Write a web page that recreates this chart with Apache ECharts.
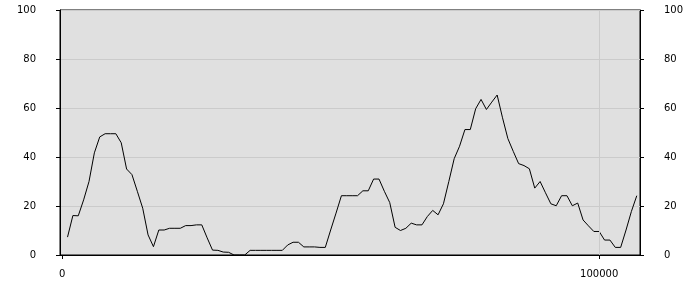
<!DOCTYPE html>
<html>
<head>
<meta charset="utf-8">
<script src="https://cdn.jsdelivr.net/npm/echarts@6/dist/echarts.min.js"></script>
<style>html,body{margin:0;padding:0;background:#fff}#c{width:700px;height:300px}</style>
</head>
<body>
<div id="c"></div>
<script>
var xValues = [1000,2000,3000,4000,5000,6000,7000,8000,9000,10000,11000,12000,13000,14000,15000,16000,17000,18000,19000,20000,21000,22000,23000,24000,25000,26000,27000,28000,29000,30000,31000,32000,33000,34000,35000,36000,37000,38000,39000,40000,41000,42000,43000,44000,45000,46000,47000,48000,49000,50000,51000,52000,53000,54000,55000,56000,57000,58000,59000,60000,61000,62000,63000,64000,65000,66000,67000,68000,69000,70000,71000,72000,73000,74000,75000,76000,77000,78000,79000,80000,81000,82000,83000,84000,85000,86000,87000,88000,89000,90000,91000,92000,93000,94000,95000,96000,97000,98000,99000,100000,101000,102000,103000,104000,105000,106000,107000];
var yValues = [7.3,16.1,16,22.5,30,41.7,48.2,49.5,49.5,49.5,45.8,35.1,32.8,26,19.1,8.2,3.4,10.2,10.2,10.9,10.9,10.9,12,12,12.3,12.3,7,2,1.9,1.2,1.1,0,0,0,1.9,1.9,1.9,1.9,1.9,1.9,1.9,4.1,5.2,5.2,3.3,3.3,3.3,3.1,3.1,10.2,17.1,24.2,24.2,24.2,24.2,26.2,26.2,31,31,26,21.4,11.3,10,10.9,13,12.3,12.3,15.7,18.2,16.4,20.9,30,39.3,44.4,51.2,51.2,59.7,63.5,59.4,62.4,65.3,56,47.5,42.3,37.3,36.5,35.2,27.3,30,25.4,20.9,20.1,24.2,24.2,20.1,21.2,14.3,11.9,9.6,9.6,6.1,6.1,3.1,3.1,10.2,17.8,24.2];
var xTickValues = [0, 100000];
var xGridValues = [100000];

var pts = xValues.map(function (x, i) { return [x, yValues[i]]; });
var font = { fontFamily: 'DejaVu Sans', fontSize: 10, color: '#000' };
var yAxisBase = function (pos) {
  return {
    type: 'value', position: pos, min: 0, max: 100, interval: 20,
    axisLine: { show: true, onZero: false, lineStyle: { color: '#000', width: 1 } },
    axisTick: { show: true, length: 4, lineStyle: { color: '#000' } },
    axisLabel: Object.assign({ margin: 24 }, font),
    splitLine: { show: pos === 'left', lineStyle: { color: '#cbcbcb', width: 1 } }
  };
};
var chart = echarts.init(document.getElementById('c'), null, { renderer: 'canvas' });
chart.setOption({
  animation: false,
  grid: { left: 60, right: 60, top: 10, bottom: 45, show: true, backgroundColor: '#e0e0e0', borderColor: '#000', borderWidth: 1 },
  xAxis: {
    type: 'value', min: -400, max: 107600,
    axisLine: { show: true, onZero: false, lineStyle: { color: '#000', width: 1 } },
    axisTick: { show: true, length: 4, lineStyle: { color: '#000' }, customValues: xTickValues },
    axisLabel: Object.assign({ margin: 14, customValues: xTickValues, formatter: function (v) { return String(v); } }, font),
    splitLine: { show: false }
  },
  yAxis: [yAxisBase('left'), yAxisBase('right')],
  series: [{
    type: 'line', data: pts, showSymbol: false, symbol: 'none',
    lineStyle: { color: '#000', width: 1 },
    markLine: {
      silent: true, symbol: 'none', label: { show: false },
      lineStyle: { color: '#cbcbcb', type: 'solid', width: 1 },
      data: xGridValues.map(function (v) { return { xAxis: v }; })
    },
    z: 3
  }]
});
</script>
</body>
</html>
